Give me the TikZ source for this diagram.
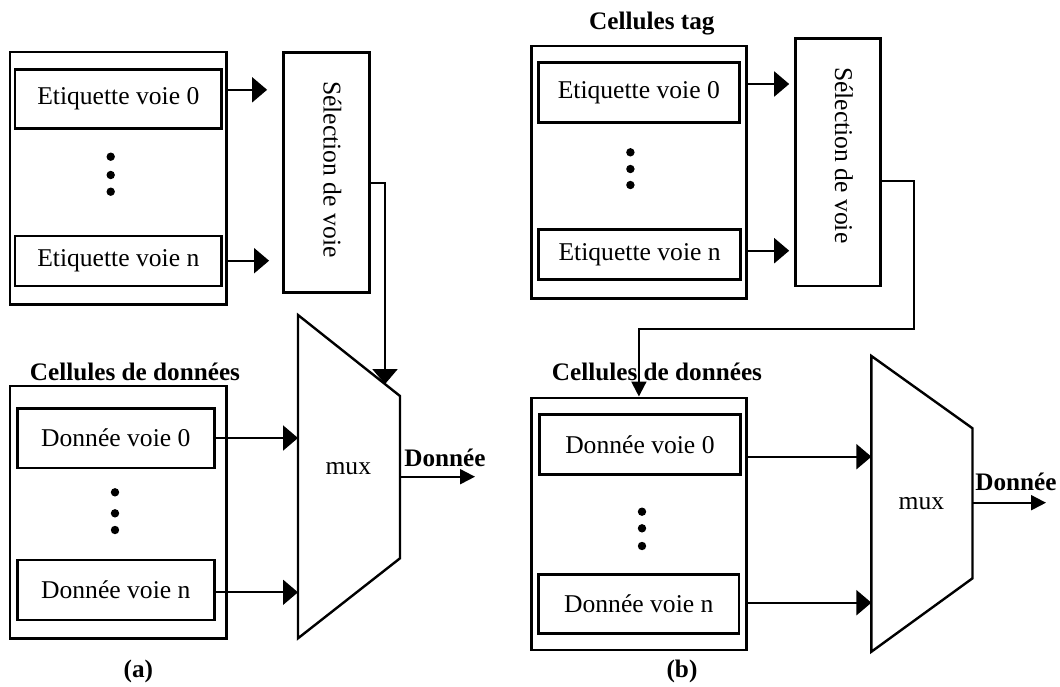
\documentclass[tikz,border=0pt]{standalone}
\usepackage{fontspec}
\setmainfont{Liberation Serif}
\usepackage{tikz}
\usetikzlibrary{positioning}
\usetikzlibrary{arrows.meta}
\usetikzlibrary{calc}
\tikzset{>={Triangle[length=7.5pt,width=12.5pt]}}
\tikzstyle{grpbox}=[draw=black,line width=1.2pt,shape=rectangle,inner sep=0pt]
\tikzstyle{cellbox}=[draw=black,line width=1.2pt,shape=rectangle,inner sep=0pt]
\tikzstyle{selbox}=[draw=black,line width=1.2pt,shape=rectangle,inner sep=0pt]
\tikzstyle{dotn}=[fill=black,shape=circle,inner sep=0pt,minimum size=4.2pt]
\tikzstyle{warr}=[->,line width=1pt,color=black]
\tikzstyle{oarr}=[-{Triangle[length=7.5pt,width=7.5pt]},line width=1pt,color=black]
\tikzstyle{muxline}=[line width=1.2pt,line join=miter]
\tikzstyle{titl}=[font=\fontsize{12.6}{15}\selectfont\bfseries]

\begin{document}
\begin{tikzpicture}[x=0.5pt,y=-0.5pt,font=\fontsize{12.8}{15}\selectfont]
	\useasboundingbox (0,0) rectangle (1060,686);

	% (a) tag cells
	\begin{scope}
	\node[grpbox,minimum width=108.3pt,minimum height=126.3pt] (grpTA) at (118.3,178) {};
	\node[cellbox,minimum width=103.3pt,minimum height=29.5pt] (tagA0) at (118.3,98.8) {Etiquette voie 0};
	\node[cellbox,minimum width=103.3pt,minimum height=25pt] (tagAn) at (118.3,260.7) {Etiquette voie n};
	\foreach \y [count=\i] in {156.7,175,191.7} \node[dotn] (dotTA\i) at (110.7,\y) {};
	\node[selbox,minimum width=43pt,minimum height=120pt] (selA) at (326.3,172.3) {};
	\node[rotate=-90] (selAtxt) at ($(selA)+(6,-3)$) {Sélection de voie};
	\draw[warr] ($(tagA0.east -| grpTA.east)+(0,-9)$) -- ($(tagA0.east -| selA.west)+(-15,-9)$);
	\draw[warr] (tagAn.east -| grpTA.east) -- ($(tagAn.east -| selA.west)+(-13,0)$);
	\end{scope}

	% (a) data cells and mux
	\begin{scope}
	\node[titl] (dlabA) at (135,371.7) {Cellules de données};
	\node[grpbox,minimum width=108.3pt,minimum height=126.2pt] (grpDA) at (118.3,512.2) {};
	\node[cellbox,minimum width=98.5pt,minimum height=29.7pt] (dataA0) at (115.8,438) {Donnée voie 0};
	\node[cellbox,minimum width=98.5pt,minimum height=30pt] (dataAn) at (115.8,590) {Donnée voie n};
	\foreach \y [count=\i] in {492.3,513.3,530} \node[dotn] (dotDA\i) at (115,\y) {};
	\coordinate (muxA-nw) at (298,315);
	\coordinate (muxA-ne) at (400,396);
	\coordinate (muxA-se) at (400,558.3);
	\coordinate (muxA-sw) at (298,638.3);
	\draw[muxline] (muxA-nw) -- (muxA-ne) -- (muxA-se) -- (muxA-sw) -- cycle;
	\node (muxA) at (348.3,468.3) {mux};
	\draw[warr] (dataA0.east) -- (dataA0.east -| muxA-nw);
	\draw[warr] ($(dataAn.east)+(0,2.3)$) -- ($(dataAn.east -| muxA-nw)+(0,2.3)$);
	\coordinate (muxA-in) at ($(muxA-nw)!0.853!(muxA-ne)$);
	\draw[warr] ($(selA.east)+(0,10.4)$) -| (muxA-in);
	\coordinate (muxA-out) at (400,476.7);
	\coordinate (outA) at (475,476.7);
	\draw[oarr] (muxA-out) -- (outA);
	\node[titl] (outAtxt) at (445,458.3) {Donnée};
	\node[titl] (capA) at (138.3,671.7) {(a)};
	\end{scope}

	% (b) tag cells
	\begin{scope}
	\node[titl] (tlabB) at (651.8,23.3) {Cellules tag};
	\node[grpbox,minimum width=107.5pt,minimum height=126.3pt] (grpTB) at (638.9,172) {};
	\node[cellbox,minimum width=100.5pt,minimum height=30pt] (tagB0) at (638.8,92.3) {Etiquette voie 0};
	\node[cellbox,minimum width=101pt,minimum height=25pt] (tagBn) at (639.6,254.3) {Etiquette voie n};
	\foreach \y [count=\i] in {152.3,169,185} \node[dotn] (dotTB\i) at (630.4,\y) {};
	\node[selbox,minimum width=42.5pt,minimum height=123.9pt] (selB) at (837.9,162.2) {};
	\node[rotate=-90] (selBtxt) at ($(selB)+(6,-7)$) {Sélection de voie};
	\draw[warr] ($(tagB0.east -| grpTB.east)+(0,-8.3)$) -- ($(tagB0.east -| selB.west)+(-5,-8.3)$);
	\draw[warr] ($(tagBn.east -| grpTB.east)+(0,-3.6)$) -- ($(tagBn.east -| selB.west)+(-5,-3.6)$);
	\end{scope}

	% (b) data cells and mux
	\begin{scope}
	\node[titl] (dlabB) at (657,371.7) {Cellules de données};
	\node[grpbox,minimum width=107.5pt,minimum height=126.2pt] (grpDB) at (638.9,523.9) {};
	\node[cellbox,minimum width=100.5pt,minimum height=30pt] (dataB0) at (639.9,444.3) {Donnée voie 0};
	\node[cellbox,minimum width=100.2pt,minimum height=29.5pt] (dataBn) at (638.8,603.8) {Donnée voie n};
	\foreach \y [count=\i] in {511.7,528.3,546} \node[dotn] (dotDB\i) at (642,\y) {};
	\coordinate (muxB-nw) at (871.4,356);
	\coordinate (muxB-ne) at (972.5,428.3);
	\coordinate (muxB-se) at (972.5,578.3);
	\coordinate (muxB-sw) at (871.4,651.7);
	\draw[muxline] (muxB-nw) -- (muxB-ne) -- (muxB-se) -- (muxB-sw) -- cycle;
	\node (muxB) at (921.4,503.3) {mux};
	\draw[warr] ($(dataB0.east -| grpDB.east)+(0,12.4)$) -- ($(dataB0.east -| muxB-nw)+(0,12.4)$);
	\draw[warr] ($(dataBn.east -| grpDB.east)+(0,-1.1)$) -- ($(dataBn.east -| muxB-nw)+(0,-1.1)$);
	\coordinate (bendB) at (913.6,329.3);
	\draw[oarr] ($(selB.east)+(0,18.5)$) -| (bendB) -| (grpDB.north);
	\coordinate (muxB-out) at (972.5,502.7);
	\coordinate (outB) at (1046,502.7);
	\draw[oarr] (muxB-out) -- (outB);
	\node[titl] (outBtxt) at (1016,481.7) {Donnée};
	\node[titl] (capB) at (682,671.7) {(b)};
	\end{scope}

\end{tikzpicture}
\end{document}
